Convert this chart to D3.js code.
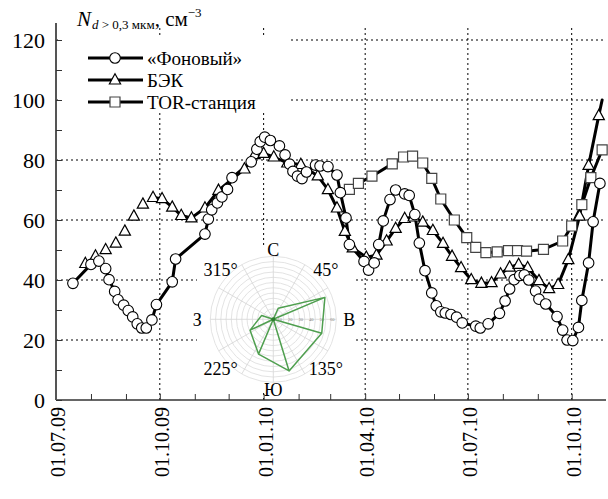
<!DOCTYPE html>
<html>
<head>
<meta charset="utf-8" />
<title>Nd &gt; 0,3 мкм</title>
<style>
  body { margin: 0; background: #fff; }
  svg { display: block; }
  svg text { font-family: "Liberation Serif", "Times New Roman", "DejaVu Serif", serif !important; fill: #000; }
</style>
</head>
<body>
<svg id="chart" width="608" height="499"></svg>
<script src="https://cdnjs.cloudflare.com/ajax/libs/d3/7.8.5/d3.min.js"></script>
<script>
// «Фоновый» (circles)
var fonDates = ["2009-07-16","2009-08-01","2009-08-08","2009-08-14","2009-08-17","2009-08-22","2009-08-25","2009-08-30",
  "2009-09-03","2009-09-07","2009-09-11","2009-09-15","2009-09-19","2009-09-24","2009-09-28","2009-10-12","2009-10-15",
  "2009-11-10","2009-11-13","2009-11-16","2009-11-21","2009-11-25","2009-11-30","2009-12-04","2009-12-21","2009-12-26",
  "2009-12-29","2010-01-02","2010-01-07","2010-01-15","2010-01-20","2010-01-24","2010-01-27","2010-01-31","2010-02-04",
  "2010-02-08","2010-02-16","2010-02-20","2010-02-27","2010-03-07","2010-03-10","2010-03-15","2010-03-18","2010-03-31",
  "2010-04-04","2010-04-09","2010-04-13","2010-04-17","2010-04-23","2010-04-28","2010-05-06","2010-05-10","2010-05-15",
  "2010-05-19","2010-05-24","2010-05-30","2010-06-03","2010-06-07","2010-06-11","2010-06-16","2010-06-21","2010-06-26",
  "2010-07-08","2010-07-12","2010-07-19","2010-07-29","2010-08-03","2010-08-07","2010-08-11","2010-08-16","2010-08-20",
  "2010-08-24","2010-08-30","2010-09-02","2010-09-08","2010-09-18","2010-09-23","2010-09-27","2010-10-02","2010-10-07",
  "2010-10-10","2010-10-16","2010-10-20","2010-10-26"];
var fonValues = [38.9,45.2,46.3,43.8,40.1,36.2,33.4,31.6,29.8,27.7,25.4,24.0,24.0,26.7,31.8,39.4,47.0,55.3,60.3,63.4,
  65.7,67.7,70.2,74.1,79.4,83.6,86.1,87.6,86.5,84.7,81.7,78.6,76.2,74.6,73.8,76.0,78.3,78.0,77.8,75.0,69.1,60.7,51.8,
  46.2,43.3,45.7,51.8,59.7,66.8,70.0,68.7,68.2,61.8,52.3,43.1,35.7,31.4,29.4,29.0,28.5,27.6,25.7,24.6,24.0,25.4,28.9,
  33.0,37.0,40.1,41.5,41.7,40.0,36.3,33.6,32.0,27.8,23.3,20.0,19.8,24.2,33.2,45.7,59.4,72.2];

// БЭК (triangles); the line is only drawn from bekLineStart on
var bekDates = ["2009-07-27","2009-08-05","2009-08-14","2009-08-23","2009-08-31","2009-09-08","2009-09-16","2009-09-25",
  "2009-10-03","2009-10-12","2009-10-20","2009-10-29","2009-11-10","2009-11-22","2009-12-15","2009-12-24","2010-01-01",
  "2010-01-10","2010-01-22","2010-02-03","2010-02-18","2010-02-27","2010-03-07","2010-03-14","2010-03-21","2010-04-02",
  "2010-04-11","2010-04-20","2010-04-28","2010-05-06","2010-05-14","2010-05-22","2010-05-31","2010-06-09","2010-06-17",
  "2010-06-25","2010-07-04","2010-07-13","2010-07-22","2010-07-30","2010-08-07","2010-08-15","2010-08-23","2010-09-02",
  "2010-09-11","2010-09-19","2010-09-28","2010-10-08","2010-10-16","2010-10-25"];
var bekValues = [45.5,48.0,50.1,52.3,56.3,61.3,65.3,67.5,67.1,64.3,61.5,60.7,64.0,69.9,77.0,81.8,82.2,81.0,79.0,78.5,
  74.7,70.1,64.0,56.2,50.7,47.6,48.3,53.0,57.2,60.5,61.0,59.3,56.5,52.2,47.9,44.1,40.1,38.9,39.1,42.0,44.3,45.2,44.1,
  39.8,37.1,38.5,46.8,61.3,78.2,94.8];
var bekLineStart = "2009-09-25";
// the БЭК line runs on past its last marker
var bekLineEnd = { date: "2010-10-28", value: 100 };

// TOR-станция (squares)
var torDates = ["2010-03-18","2010-03-26","2010-04-07","2010-04-25","2010-05-05","2010-05-13","2010-05-22","2010-05-30",
  "2010-06-07","2010-06-19","2010-06-30","2010-07-08","2010-07-17","2010-07-27","2010-08-06","2010-08-14","2010-08-22",
  "2010-09-06","2010-09-23","2010-10-01","2010-10-10","2010-10-18","2010-10-28"];
var torValues = [70.2,72.2,74.6,78.7,81.0,81.3,79.0,73.9,67.0,60.0,54.1,50.9,49.1,49.4,49.8,49.8,49.6,50.2,53.0,58.0,
  65.1,74.1,83.4];

var legendNames = ["«Фоновый»", "БЭК", "TOR-станция"];
var yTickValues = [0, 20, 40, 60, 80, 100, 120];

// inset wind rose
var windDirs = [24, 67, 106, 163, 203, 245, 288];
var windValues = [11.5, 53.4, 48.0, 51.4, 36.0, 24.4, 11.7];
var roseLabels = [["С", 0], ["45°", 45], ["В", 90], ["135°", 135], ["Ю", 180], ["225°", 225], ["З", 270], ["315°", 315]];
var roseRingLabels = [10, 20, 30, 40, 50, 60];

var parse = d3.timeParse("%Y-%m-%d");
function pack(dates, values) {
  return dates.map(function(d, i) { return { date: parse(d), value: values[i] }; });
}
var fon = pack(fonDates, fonValues);
var bek = pack(bekDates, bekValues);
var tor = pack(torDates, torValues);

var svg = d3.select("#chart");

var x = d3.scaleTime()
  .domain([parse("2009-07-01"), parse("2010-10-30")])
  .range([56, 604.4]);
var y = d3.scaleLinear().domain([0, 125]).range([400, 25]);

var quarters = x.ticks(d3.timeMonth.every(3));
var months = x.ticks(d3.timeMonth.every(1));

// grid
var grid = svg.append("g").attr("stroke", "#000").attr("stroke-width", 1).attr("stroke-dasharray", "2,3");
grid.selectAll(".hg").data(yTickValues.slice(1)).enter().append("line")
  .attr("x1", 56).attr("x2", 605)
  .attr("y1", function(d) { return y(d); }).attr("y2", function(d) { return y(d); });
grid.selectAll(".vg").data(quarters.slice(1)).enter().append("line")
  .attr("x1", function(d) { return x(d); }).attr("x2", function(d) { return x(d); })
  .attr("y1", y(0)).attr("y2", y(125));

// legend background hides the grid
svg.append("rect").attr("x", 60).attr("y", 35).attr("width", 230).attr("height", 76).attr("fill", "#fff");

// inset: wind rose
var cx = 273.3, cy = 319.3;
var rr = d3.scaleLinear().domain([0, 60]).range([0, 63]);
svg.append("rect").attr("x", 197).attr("y", 248).attr("width", 156).attr("height", 145).attr("fill", "#fff");
var rose = svg.append("g").attr("transform", "translate(" + cx + "," + cy + ")");
rose.selectAll(".ring").data(d3.range(5, 61, 5)).enter().append("circle")
  .attr("r", function(d) { return rr(d); })
  .attr("fill", "none").attr("stroke", "#dcdcdc").attr("stroke-width", 0.8);
rose.selectAll(".spoke").data(d3.range(0, 360, 30)).enter().append("line")
  .attr("x1", 0).attr("y1", 0)
  .attr("x2", function(d) { return rr(60) * Math.sin(d * Math.PI / 180); })
  .attr("y2", function(d) { return -rr(60) * Math.cos(d * Math.PI / 180); })
  .attr("stroke", "#d4d4d4").attr("stroke-width", 0.8);
rose.selectAll(".rl").data(roseRingLabels).enter().append("text")
  .attr("x", function(d) { return rr(d) - 4; }).attr("y", 1.5)
  .attr("font-size", 4.5).style("fill", "#888").attr("text-anchor", "middle")
  .text(function(d) { return d; });
var pts = windDirs.map(function(a, i) {
  var r = rr(windValues[i]), t = a * Math.PI / 180;
  return [r * Math.sin(t), -r * Math.cos(t)];
});
var fan = "";
for (var i = 0; i < pts.length - 1; i++) {
  fan += "M0,0L" + pts[i] + "L" + pts[i + 1] + "Z";
}
rose.append("path").attr("d", fan)
  .attr("fill", "none").attr("stroke", "#4f9f4f").attr("stroke-width", 1.5).attr("stroke-linejoin", "round");
rose.append("circle").attr("r", 2).attr("fill", "#2e7d2e");
rose.selectAll(".dl").data(roseLabels).enter().append("text")
  .attr("x", function(d) { return 76 * Math.sin(d[1] * Math.PI / 180) * (d[1] % 90 ? 0.98 : 1); })
  .attr("y", function(d) { return -70 * Math.cos(d[1] * Math.PI / 180); })
  .attr("dy", "0.35em").attr("text-anchor", "middle").attr("font-size", 18)
  .text(function(d) { return d[0]; });

// axes
var xMinor = svg.append("g").attr("transform", "translate(0," + y(0) + ")")
  .call(d3.axisBottom(x).tickValues(months).tickSize(-6).tickFormat("").tickSizeOuter(0));
xMinor.select(".domain").attr("stroke", "#333").attr("stroke-width", 1.5).attr("d", "M56,0H606");
xMinor.selectAll(".tick line").attr("stroke", "#333");

var xLab = svg.append("g").attr("transform", "translate(0," + y(0) + ")")
  .call(d3.axisBottom(x).tickValues(quarters).tickSize(0).tickFormat(d3.timeFormat("%d.%m.%y")));
xLab.select(".domain").remove();
xLab.selectAll("text")
  .attr("transform", "rotate(-90)")
  .attr("x", -7).attr("y", 0).attr("dy", "0.42em")
  .style("text-anchor", "end")
  .style("font-size", "20px");

var yAx = svg.append("g").attr("transform", "translate(56,0)")
  .call(d3.axisLeft(y).tickValues(d3.range(0, 121, 10)).tickSize(-6)
    .tickFormat(function(d) { return d % 20 ? "" : d; }).tickSizeOuter(0));
yAx.select(".domain").attr("stroke", "#555").attr("stroke-width", 2).attr("d", "M0,400V23");
yAx.selectAll(".tick line").attr("stroke", "#333");
yAx.selectAll("text").attr("x", -11).style("font-size", "22px");

// series
var line = d3.line().x(function(d) { return x(d.date); }).y(function(d) { return y(d.value); });
var lines = svg.append("g").attr("fill", "none").attr("stroke", "#000").attr("stroke-width", 3)
  .attr("stroke-linejoin", "round").attr("stroke-linecap", "round");
lines.append("path").attr("d", line(tor));
lines.append("path").attr("d", line(bek.filter(function(d) { return d.date >= parse(bekLineStart); })
  .concat([{ date: parse(bekLineEnd.date), value: bekLineEnd.value }])));
lines.append("path").attr("d", line(fon));

var triPath = "M0,-6.2L5.6,4L-5.6,4Z";
var sqPath = "M-5,-5H5V5H-5Z";

function markers(data, kind) {
  var g = svg.append("g");
  var sel = g.selectAll("." + kind).data(data).enter();
  if (kind === "circle") {
    sel.append("circle")
      .attr("cx", function(d) { return x(d.date); }).attr("cy", function(d) { return y(d.value); })
      .attr("r", 5.3).attr("fill", "#fff").attr("stroke", "#000").attr("stroke-width", 1.1);
  } else {
    sel.append("path")
      .attr("transform", function(d) { return "translate(" + x(d.date) + "," + y(d.value) + ")"; })
      .attr("d", kind === "tri" ? triPath : sqPath)
      .attr("fill", "#fff").attr("stroke", kind === "tri" ? "#000" : "#444").attr("stroke-width", 1.2);
  }
}
markers(tor, "sq");
markers(bek, "tri");
markers(fon, "circle");

// legend
var leg = svg.append("g");
var legKinds = ["circle", "tri", "sq"];
var legY = [58, 80, 102];
legendNames.forEach(function(name, i) {
  var row = leg.append("g").attr("transform", "translate(0," + legY[i] + ")");
  row.append("line").attr("x1", 88).attr("x2", 143).attr("stroke", "#000").attr("stroke-width", 3);
  if (legKinds[i] === "circle") {
    row.append("circle").attr("cx", 115).attr("r", 5.3).attr("fill", "#fff").attr("stroke", "#000").attr("stroke-width", 1.1);
  } else {
    row.append("path").attr("transform", "translate(115,0)").attr("d", legKinds[i] === "tri" ? triPath : sqPath)
      .attr("fill", "#fff").attr("stroke", legKinds[i] === "tri" ? "#000" : "#444").attr("stroke-width", 1.2);
  }
  row.append("text").attr("x", 147).attr("dy", "0.36em").attr("font-size", 19).text(name);
});

// title: one text with sub- and superscript
var title = svg.append("text").attr("x", 77).attr("y", 26).attr("font-size", 21);
title.append("tspan").attr("font-style", "italic").text("N");
title.append("tspan").attr("font-size", 13).attr("dy", 3).attr("dx", 1).attr("font-style", "italic").text("d");
title.append("tspan").attr("font-size", 13).text(" > 0,3 мкм");
title.append("tspan").attr("dy", -3).text(", см");
title.append("tspan").attr("font-size", 13).attr("dy", -9).text("−3");
</script>
</body>
</html>
